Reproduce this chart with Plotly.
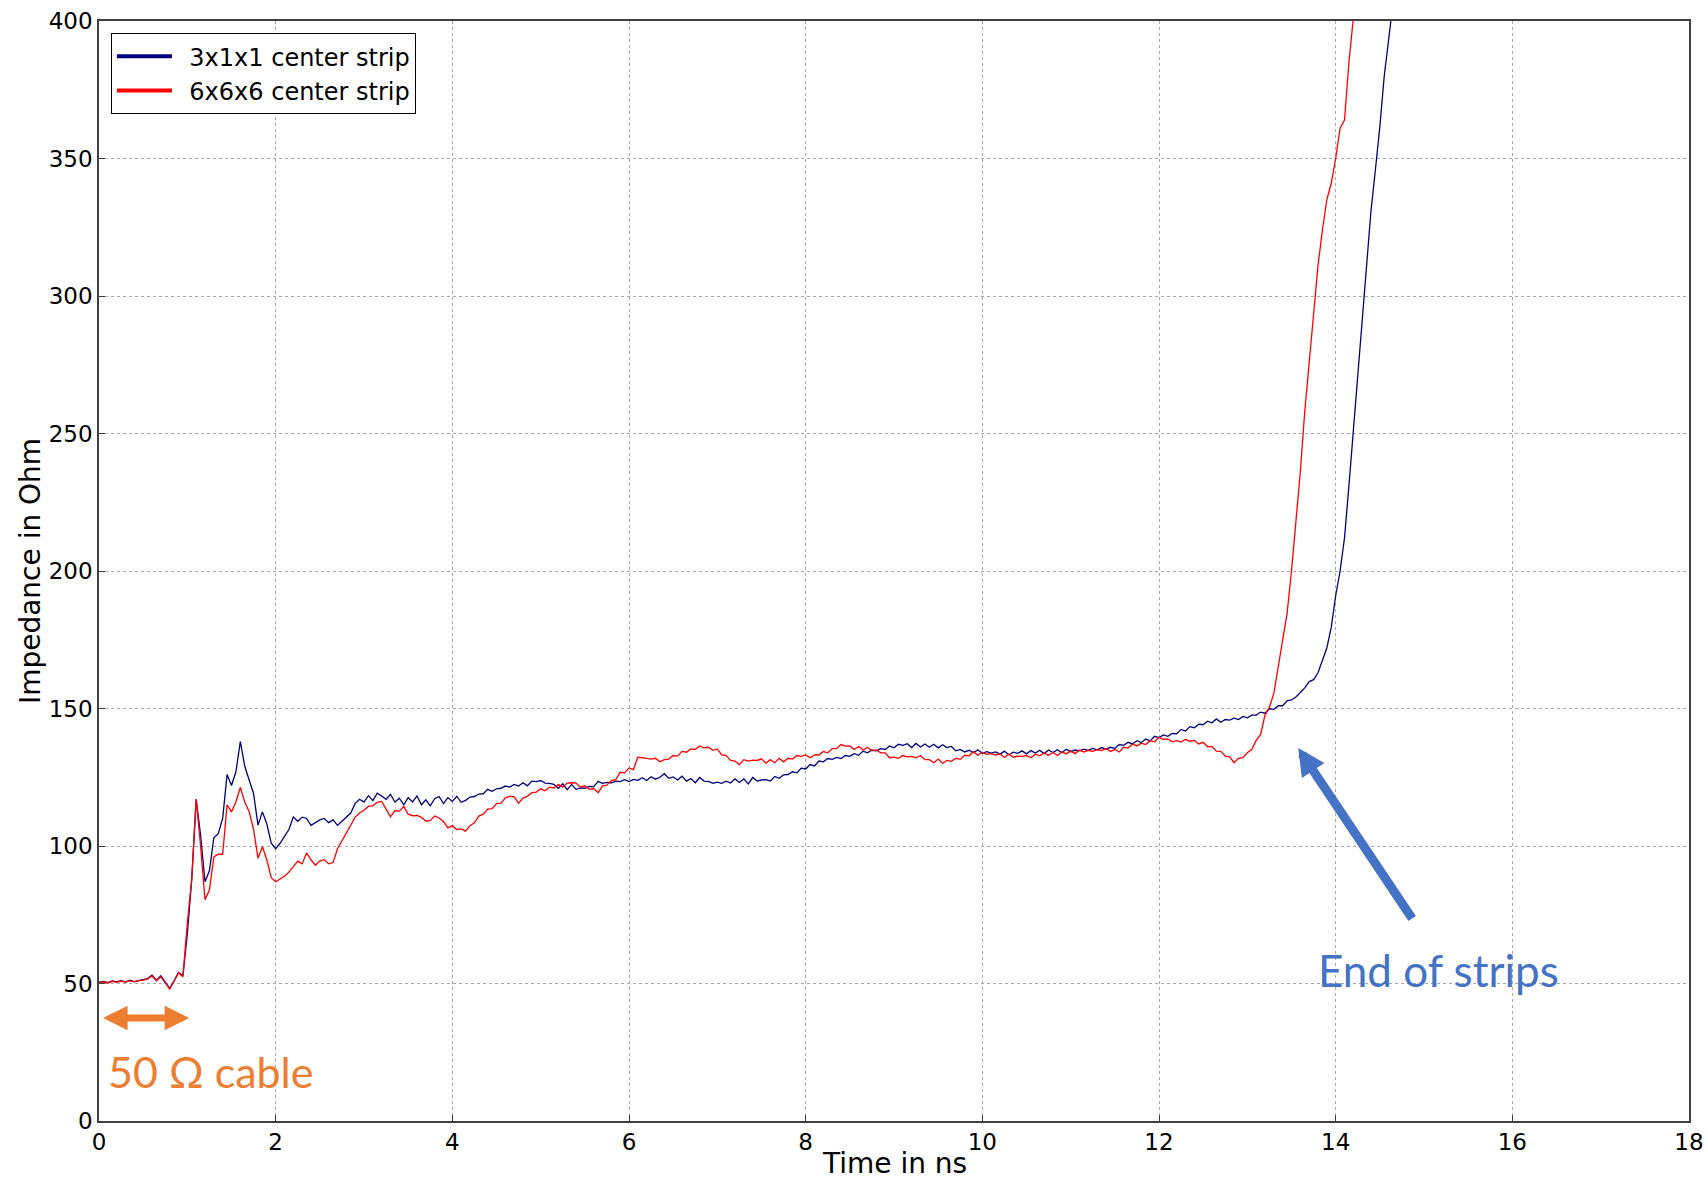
import numpy as np
import plotly.graph_objects as go

# TDR impedance profiles, sampled every 0.05 ns
DT = 0.05

z_3x1x1 = [
    50.5, 50.8, 50.3, 50.9, 50.6, 51.0, 50.5, 51.2, 50.7, 51.0,
    51.3, 51.8, 53.0, 51.2, 52.8, 50.6, 48.2, 51.0, 54.0, 52.8,
    68.0, 88.0, 117.0, 104.0, 87.0, 91.0, 103.0, 104.5, 110.0, 126.0,
    122.0, 127.0, 138.0, 129.0, 124.0, 119.0, 107.6, 112.4, 108.0, 101.0,
    99.0, 101.0, 103.5, 106.0, 110.6, 109.0, 110.5, 110.0, 107.5, 108.5,
    109.5, 110.0, 108.5, 109.5, 107.5, 109.0, 110.5, 112.0, 115.5, 117.0,
    116.0, 118.3, 116.5, 119.2, 118.2, 117.0, 118.8, 116.0, 117.4, 115.0,
    117.6, 116.0, 118.2, 115.0, 116.8, 114.6, 117.2, 118.0, 115.4, 117.6,
    116.2, 118.1, 115.9, 116.6, 117.8, 118.0, 118.9, 119.0, 120.6, 119.9,
    120.8, 121.0, 121.8, 121.4, 122.4, 121.8, 123.0, 121.9, 123.6, 123.4,
    123.8, 122.9, 122.8, 122.4, 121.0, 122.6, 120.5, 122.4, 120.6, 121.1,
    121.0, 121.7, 121.5, 123.5, 122.8, 123.1, 123.0, 123.6, 123.4, 124.1,
    123.4, 124.2, 123.9, 124.8, 123.8, 125.2, 124.3, 125.0, 126.3, 124.6,
    125.1, 124.0, 125.4, 123.6, 124.5, 123.0, 124.9, 123.6, 123.5, 122.8,
    123.2, 122.8, 123.6, 122.9, 124.4, 123.1, 124.4, 122.6, 124.9, 123.6,
    124.0, 124.1, 123.6, 125.3, 124.6, 125.9, 126.0, 127.0, 126.6, 128.3,
    128.0, 129.6, 129.1, 130.9, 130.6, 131.8, 131.5, 132.2, 131.8, 132.9,
    132.6, 133.6, 133.0, 134.5, 133.9, 134.9, 134.6, 135.4, 135.1, 136.4,
    135.7, 137.0, 136.6, 137.2, 135.8, 137.3, 136.0, 137.1, 135.9, 137.0,
    135.7, 136.8, 135.8, 136.2, 134.6, 135.1, 134.2, 134.8, 133.9, 135.0,
    133.7, 134.3, 133.8, 134.2, 133.4, 134.5, 133.2, 134.1, 133.7, 134.6,
    133.5, 134.7, 133.8, 134.8, 133.6, 134.9, 134.0, 135.0, 133.9, 135.2,
    134.3, 134.9, 134.6, 135.2, 134.8, 135.5, 135.0, 135.8, 135.2, 135.9,
    135.5, 136.9, 136.6, 137.7, 137.1, 138.3, 137.6, 138.9, 138.2, 139.9,
    139.4, 140.4, 139.9, 140.9, 140.8, 142.4, 141.8, 143.4, 143.0, 144.3,
    144.1, 145.4, 144.8, 146.2, 145.0, 146.0, 145.8, 146.5, 146.0, 147.1,
    146.6, 147.6, 147.6, 148.7, 148.3, 149.9, 149.7, 151.0, 151.0, 152.8,
    153.1, 154.2, 155.8, 157.5, 159.8, 160.5, 163.0, 167.5, 172.0, 179.5,
    191.0, 200.0, 212.0, 231.0, 251.0, 274.0, 292.0, 311.0, 331.0, 346.0,
    361.5, 380.0, 393.0, 405.0, 420.0,
]

z_6x6x6 = [
    50.3, 50.6, 50.2, 50.8, 50.4, 50.9, 50.5, 51.0, 50.6, 51.1,
    51.2, 51.6, 52.8, 51.0, 52.5, 50.4, 48.0, 50.8, 53.8, 52.5,
    72.0, 88.0, 117.0, 100.0, 80.5, 84.0, 96.0, 97.0, 97.0, 115.0,
    112.4, 116.0, 121.3, 116.0, 112.5, 106.0, 95.5, 99.7, 95.0, 88.5,
    87.0, 88.0, 89.0, 90.5, 92.5, 94.5, 93.5, 97.5, 95.0, 93.0,
    94.5, 95.0, 93.5, 94.0, 99.0, 102.0, 105.0, 107.6, 110.5, 112.0,
    113.0, 114.4, 114.6, 115.9, 116.2, 113.4, 110.6, 112.9, 112.6, 114.4,
    111.6, 111.0, 111.1, 110.4, 109.1, 109.2, 110.9, 110.2, 108.9, 106.6,
    107.4, 106.0, 106.2, 105.4, 107.4, 108.4, 110.9, 111.6, 113.4, 113.6,
    115.4, 115.6, 117.4, 118.1, 117.9, 115.6, 117.4, 118.1, 119.4, 119.6,
    120.8, 120.1, 121.4, 121.1, 122.4, 121.4, 122.9, 123.0, 122.9, 121.4,
    121.9, 120.6, 120.9, 119.4, 121.9, 122.1, 123.8, 124.1, 126.8, 126.6,
    128.4, 127.8, 132.3, 132.1, 131.9, 131.6, 131.9, 130.6, 131.4, 131.6,
    132.9, 132.7, 134.4, 134.1, 135.3, 135.1, 136.4, 135.7, 135.9, 134.8,
    135.3, 133.1, 132.9, 131.1, 130.9, 129.6, 131.4, 130.9, 131.2, 131.1,
    131.7, 130.1, 131.4, 130.3, 131.9, 130.6, 131.9, 131.6, 132.9, 132.6,
    133.1, 132.1, 133.1, 133.1, 134.4, 133.9, 135.4, 135.4, 136.9, 136.3,
    136.4, 135.1, 136.2, 134.9, 135.9, 134.6, 134.9, 133.9, 133.9, 132.1,
    132.3, 131.9, 132.9, 132.4, 132.6, 132.1, 132.9, 131.4, 131.4, 130.3,
    131.6, 130.1, 131.1, 130.8, 131.9, 131.5, 133.0, 132.8, 134.3, 133.0,
    134.1, 133.3, 133.6, 133.1, 133.5, 132.2, 133.4, 132.3, 132.7, 132.6,
    132.9, 132.1, 133.4, 132.8, 133.8, 133.0, 134.0, 132.9, 134.3, 133.5,
    134.6, 133.6, 134.9, 134.2, 134.8, 134.4, 135.0, 134.7, 135.5, 134.4,
    135.1, 134.2, 135.9, 135.6, 137.1, 136.4, 137.4, 136.9, 138.3, 137.9,
    139.5, 138.8, 138.9, 137.9, 138.3, 137.8, 138.8, 138.1, 138.4, 137.1,
    137.7, 136.1, 136.2, 134.5, 134.4, 132.7, 132.4, 130.3, 131.9, 132.1,
    133.9, 135.1, 138.4, 140.6, 147.6, 150.5, 155.5, 165.2, 175.0, 184.6,
    200.0, 218.0, 236.0, 258.0, 276.0, 292.0, 311.0, 324.0, 335.0, 341.0,
    350.0, 361.0, 364.0, 385.0, 401.0, 425.0,
]

t_3x1x1 = np.round(np.arange(len(z_3x1x1)) * DT, 3)
t_6x6x6 = np.round(np.arange(len(z_6x6x6)) * DT, 3)

NAVY = "#00007f"
RED = "#ff0000"
FONT = "DejaVu Sans"
PAD = "\u00a0\u2009"

fig = go.Figure()

# measured traces
fig.add_trace(go.Scatter(x=t_3x1x1, y=z_3x1x1, mode="lines",
                         line=dict(color=NAVY, width=1.3), showlegend=False))
fig.add_trace(go.Scatter(x=t_6x6x6, y=z_6x6x6, mode="lines",
                         line=dict(color=RED, width=1.3), showlegend=False))

# legend entries with heavier sample lines
fig.add_trace(go.Scatter(x=[None], y=[None], mode="lines",
                         name=PAD + "3x1x1 center strip",
                         line=dict(color=NAVY, width=4)))
fig.add_trace(go.Scatter(x=[None], y=[None], mode="lines",
                         name=PAD + "6x6x6 center strip",
                         line=dict(color=RED, width=4)))

axis_common = dict(
    showline=True, linecolor="#404040", linewidth=1.5, mirror=True,
    showgrid=True, gridcolor="#a8a8a8", griddash="dot", gridwidth=1,
    zeroline=False, ticks="inside", ticklen=6, tickcolor="#404040",
    tickfont=dict(family=FONT, size=23, color="#000000"),
    automargin=False,
)

fig.update_xaxes(range=[0, 18], tick0=0, dtick=2, **axis_common)
fig.update_yaxes(range=[0, 400], tick0=0, dtick=50, **axis_common,
                 title=dict(text="Impedance in Ohm", standoff=0,
                            font=dict(family=FONT, size=28, color="#000000")))

# x-axis title placed just under the tick labels, resting on the page bottom
fig.add_annotation(x=0.5, y=-60 / 1100, xref="paper", yref="paper",
                   text="Time in ns", showarrow=False, borderpad=0,
                   xanchor="center", yanchor="bottom",
                   font=dict(family=FONT, size=28, color="#000000"))

# 50 ohm cable section marker
fig.add_annotation(x=1.02, y=37.5, ax=0.03, ay=37.5, xref="x", yref="y",
                   axref="x", ayref="y", text="", showarrow=True,
                   arrowhead=2, arrowside="end+start", arrowsize=0.7,
                   arrowwidth=7, arrowcolor="#ed7d31")
fig.add_annotation(x=0.08, y=18, xref="x", yref="y", text="50 Ω cable",
                   showarrow=False, xanchor="left", yanchor="middle",
                   font=dict(family="Lato", size=43, color="#ed7d31"))

# end-of-strips marker
fig.add_annotation(x=13.575, y=135.6, ax=14.877, ay=73.1, xref="x", yref="y",
                   axref="x", ayref="y", text="", showarrow=True,
                   arrowhead=2, arrowsize=0.6, arrowwidth=9,
                   arrowcolor="#4472c4")
fig.add_annotation(x=15.16, y=55, xref="x", yref="y", text="End of strips",
                   showarrow=False, xanchor="center", yanchor="middle",
                   font=dict(family="Lato", size=44, color="#4472c4"))

fig.update_layout(
    width=1708, height=1181,
    margin=dict(l=99, r=19, t=21, b=60),
    paper_bgcolor="#ffffff", plot_bgcolor="#ffffff",
    font=dict(family=FONT, color="#000000"),
    legend=dict(x=0.0075, y=0.989, xanchor="left", yanchor="top",
                bgcolor="#ffffff", bordercolor="#000000", borderwidth=1,
                font=dict(family=FONT, size=24, color="#000000"),
                itemwidth=55, tracegroupgap=4),
)

fig.write_html("out.html")
